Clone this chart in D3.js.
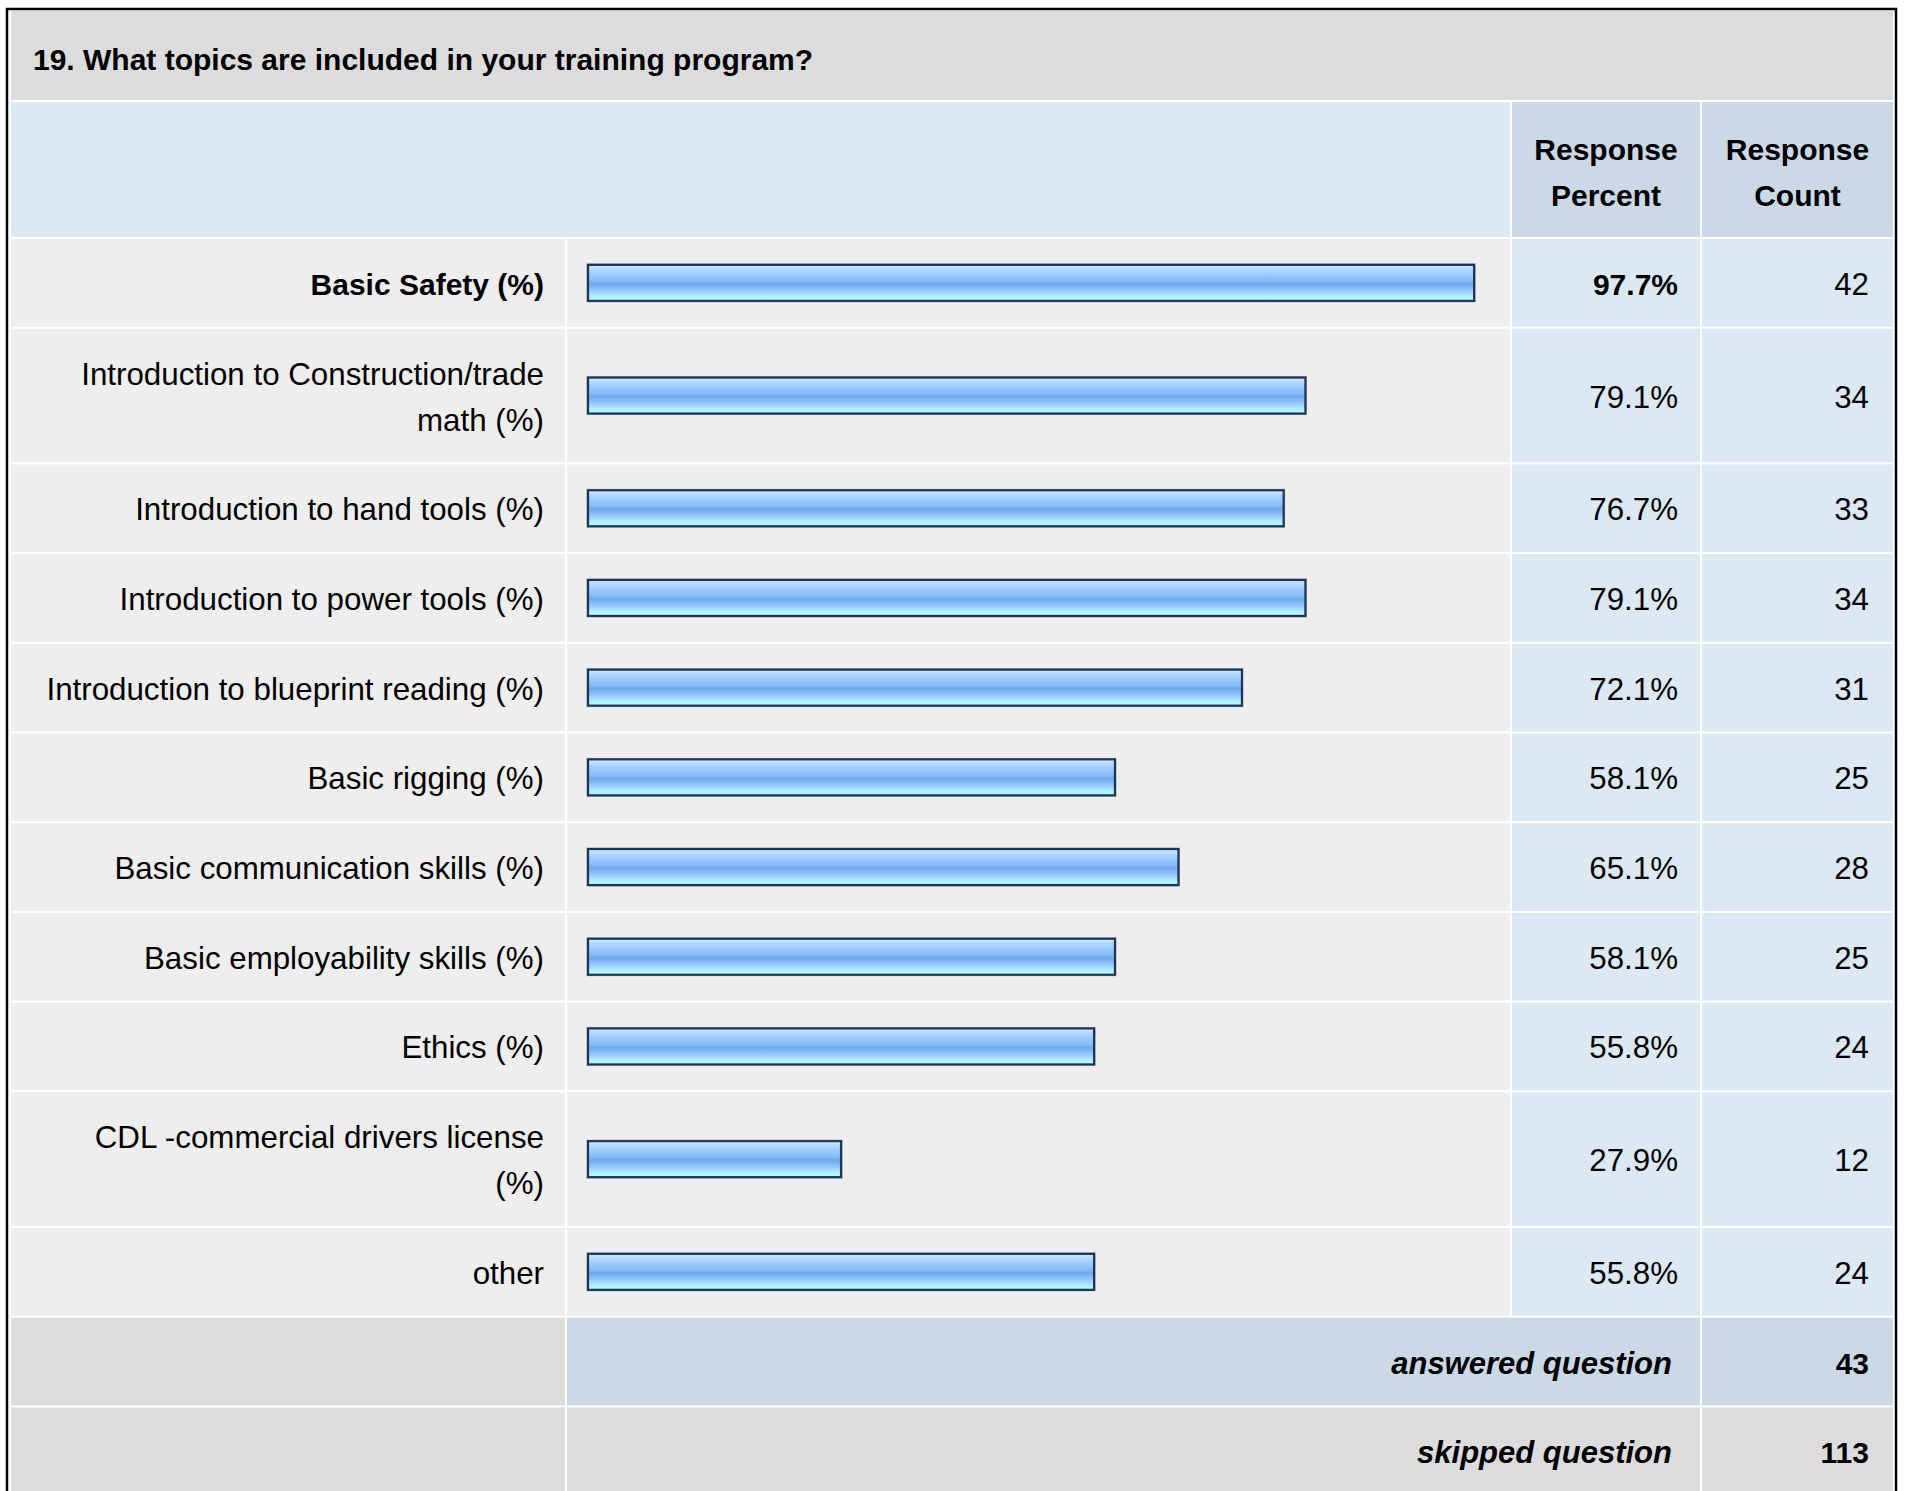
<!DOCTYPE html>
<meta charset="utf-8">
<style>
    body { margin: 0; background: #fff; }
    text { font-family: "Liberation Sans", Arial, sans-serif; font-size: 31.3px; fill: #000; }
    .bold { font-weight: bold; font-size: 30px; }
    .ital { font-style: italic; font-weight: bold; font-size: 31px; }
</style>
<svg id="mainSVG" width="1907" height="1491"></svg>
<script src="https://d3js.org/d3.v7.min.js"></script>
<script>
    // survey data
    var question = "19. What topics are included in your training program?";
    var columns = [["Response", "Percent"], ["Response", "Count"]];
    var categories = [
        "Basic Safety (%)",
        "Introduction to Construction/trade\nmath (%)",
        "Introduction to hand tools (%)",
        "Introduction to power tools (%)",
        "Introduction to blueprint reading (%)",
        "Basic rigging (%)",
        "Basic communication skills (%)",
        "Basic employability skills (%)",
        "Ethics (%)",
        "CDL -commercial drivers license\n(%)",
        "other"
    ];
    var percents = [97.7, 79.1, 76.7, 79.1, 72.1, 58.1, 65.1, 58.1, 55.8, 27.9, 55.8];
    var counts = [42, 34, 33, 34, 31, 25, 28, 25, 24, 12, 24];
    var answered = 43;
    var skipped = 113;

    var svg = d3.select("svg"),
        width = +svg.attr("width"),
        height = +svg.attr("height");

    // column edges
    var left = 11, right = 1893,
        labelEnd = 565, barStart = 567,
        pctStart = 1512, pctEnd = 1700,
        cntStart = 1702,
        gap = 2, lineH = 46, rowPad = 41.7;

    var x = d3.scaleLinear().domain([0, 100]).range([588, 1495]);

    var defs = svg.append("defs");
    var grad = defs.append("linearGradient")
        .attr("id", "barGrad")
        .attr("x1", 0).attr("y1", 0).attr("x2", 0).attr("y2", 1);
    [["0%", "#d8ecff"], ["12%", "#b4d9ff"], ["30%", "#96c8ff"], ["45%", "#86bbf6"],
     ["52%", "#6ea8ec"], ["62%", "#7fb8f4"], ["75%", "#9ccfff"], ["86%", "#b0ecff"], ["100%", "#b6ffff"]]
        .forEach(function (s) {
            grad.append("stop").attr("offset", s[0]).attr("stop-color", s[1]);
        });

    function cell(x0, x1, y0, y1, fill) {
        svg.append("rect")
            .attr("x", x0).attr("y", y0)
            .attr("width", x1 - x0).attr("height", y1 - y0)
            .attr("fill", fill);
    }

    function lines(txt, xx, cy, anchor, cls) {
        var parts = txt.split("\n");
        var t = svg.append("text")
            .attr("text-anchor", anchor)
            .attr("class", cls || null);
        parts.forEach(function (p, i) {
            t.append("tspan")
                .attr("x", xx)
                .attr("y", cy + 12 + (i - (parts.length - 1) / 2) * lineH)
                .text(p);
        });
    }

    // title band
    cell(left, right, 11, 100, "#dcdcdc");
    svg.append("text").attr("class", "bold")
        .attr("x", 33).attr("y", 70).text(question);

    // header band
    var hy0 = 102, hy1 = 237;
    cell(left, pctStart - gap, hy0, hy1, "#dde8f5");
    cell(pctStart, pctEnd, hy0, hy1, "#cbd8e6");
    cell(cntStart, right, hy0, hy1, "#cbd8e6");
    lines(columns[0].join("\n"), (pctStart + pctEnd) / 2, (hy0 + hy1) / 2 + 1, "middle", "bold");
    lines(columns[1].join("\n"), (cntStart + right) / 2, (hy0 + hy1) / 2 + 1, "middle", "bold");

    // data rows
    var y = hy1 + gap;
    categories.forEach(function (c, i) {
        var n = c.split("\n").length;
        var h = rowPad + n * lineH;
        var cy = y + h / 2;
        var cls = i === 0 ? "bold" : null;
        cell(left, labelEnd, y, y + h, "#eeeeee");
        cell(barStart, pctStart - gap, y, y + h, "#eeeeee");
        cell(pctStart, pctEnd, y, y + h, "#dde8f5");
        cell(cntStart, right, y, y + h, "#dde8f5");
        lines(c, 544, cy, "end", cls);

        svg.append("rect")
            .attr("x", x(0) - 1).attr("y", cy - 19)
            .attr("width", x(percents[i]) - x(0) + 2).attr("height", 38)
            .attr("fill", "none").attr("stroke", "#aab3c2").attr("stroke-width", 1);
        svg.append("rect")
            .attr("x", x(0)).attr("y", cy - 18)
            .attr("width", x(percents[i]) - x(0)).attr("height", 36)
            .attr("fill", "url(#barGrad)")
            .attr("stroke", "#1d3557").attr("stroke-width", 2.2);

        lines(d3.format(".1f")(percents[i]) + "%", 1678, cy, "end", cls);
        lines(String(counts[i]), 1869, cy, "end");
        y += h + gap;
    });

    // summary rows
    var ah = rowPad + lineH;
    cell(left, labelEnd, y, y + ah, "#dcdcdc");
    cell(barStart, pctEnd, y, y + ah, "#cbd8e6");
    cell(cntStart, right, y, y + ah, "#cbd8e6");
    lines("answered question", 1672, y + ah / 2, "end", "ital");
    lines(String(answered), 1869, y + ah / 2, "end", "bold");
    y += ah + gap;
    cell(left, labelEnd, y, y + ah, "#dcdcdc");
    cell(barStart, pctEnd, y, y + ah, "#dcdcdc");
    cell(cntStart, right, y, y + ah, "#dcdcdc");
    lines("skipped question", 1672, y + ah / 2, "end", "ital");
    lines(String(skipped), 1869, y + ah / 2, "end", "bold");

    // outer frame
    svg.append("path")
        .attr("d", "M7,1491 V9 H1896 V1491")
        .attr("fill", "none").attr("stroke", "#000").attr("stroke-width", 2.5);
</script>
